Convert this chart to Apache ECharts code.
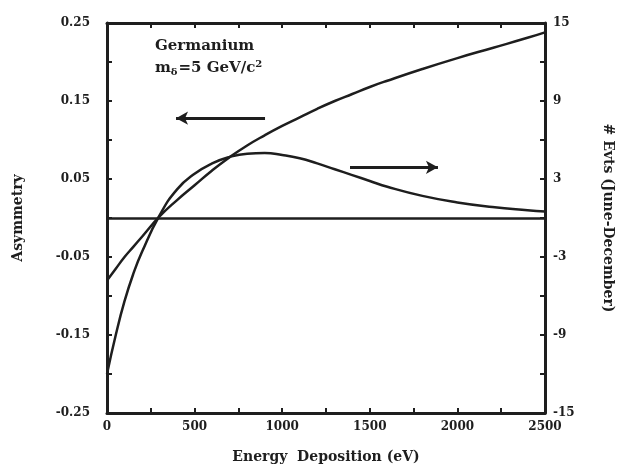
<!DOCTYPE html>
<html>
<head>
<meta charset="utf-8">
<script src="https://cdn.jsdelivr.net/npm/echarts@6/dist/echarts.min.js"></script>
<style>
  html, body { margin: 0; padding: 0; background: #fff; }
  #chart { width: 619px; height: 469px; }
</style>
</head>
<body>
<div id="chart"></div>
<script>
// Energy deposition grid (eV)
const energy = [0, 50, 100, 150, 200, 300, 400, 500, 600, 700, 800, 900, 1000,
  1100, 1200, 1300, 1400, 1500, 1600, 1800, 2000, 2200, 2400, 2500];

// Asymmetry (left axis)
const asymmetry = [-0.080, -0.065, -0.050, -0.037, -0.024, 0.002, 0.023, 0.042,
  0.061, 0.078, 0.093, 0.106, 0.118, 0.129, 0.140, 0.150, 0.159, 0.168, 0.176,
  0.191, 0.205, 0.218, 0.231, 0.238];

// Event difference June - December (right axis)
const events = [-12.0, -9.0, -6.4, -4.3, -2.6, 0.2, 2.2, 3.4, 4.2, 4.7, 4.95,
  5.0, 4.85, 4.6, 4.2, 3.75, 3.3, 2.85, 2.4, 1.7, 1.2, 0.85, 0.6, 0.5];

// Arrow annotations: [start energy, end energy, asymmetry level]
const leftArrow = [902, 394, 0.128];
const rightArrow = [1387, 1889, 0.065];

const ink = '#1e1e1e';
const tickFont = { fontFamily: 'DejaVu Serif', fontWeight: 'bold', fontSize: 12, color: ink };
const titleFont = { fontFamily: 'DejaVu Serif', fontWeight: 'bold', fontSize: 14, color: ink };

function pairs(xs, ys) { return xs.map((x, i) => [x, ys[i]]); }

const chart = echarts.init(document.getElementById('chart'), null, { renderer: 'canvas' });

const frameAxis = {
  axisLine: { show: true, onZero: false, lineStyle: { color: ink, width: 3 } },
  axisTick: { show: true, inside: true, length: 5, lineStyle: { color: ink, width: 2 } },
  splitLine: { show: false }
};

chart.setOption({
  animation: false,
  backgroundColor: '#fff',
  grid: { left: 107, right: 74, top: 23, bottom: 56, outerBoundsMode: 'none' },
  xAxis: [
    Object.assign({
      type: 'value', min: 0, max: 2500, interval: 250, position: 'bottom',
      name: 'Energy  Deposition (eV)', nameLocation: 'middle', nameGap: 37,
      nameTextStyle: titleFont,
      axisLabel: Object.assign({
        margin: 8,
        formatter: v => (v % 500 === 0 ? String(v) : '')
      }, tickFont)
    }, frameAxis),
    Object.assign({
      type: 'value', min: 0, max: 2500, interval: 250, position: 'top',
      axisLabel: { show: false }
    }, frameAxis)
  ],
  yAxis: [
    Object.assign({
      type: 'value', min: -0.25, max: 0.25, interval: 0.05, position: 'left',
      name: 'Asymmetry', nameLocation: 'middle', nameGap: 82, nameRotate: 90,
      nameTextStyle: titleFont,
      axisLabel: Object.assign({
        margin: 17, padding: [0, 0, 7, 0],
        formatter: v => (Math.abs(Math.round(v * 100)) % 10 === 5 ? v.toFixed(2) : '')
      }, tickFont)
    }, frameAxis),
    Object.assign({
      type: 'value', min: -15, max: 15, interval: 3, position: 'right',
      name: '# Evts (June-December)', nameLocation: 'middle', nameGap: 56, nameRotate: -90,
      nameTextStyle: titleFont,
      axisLabel: Object.assign({
        margin: 8, padding: [0, 0, 7, 0],
        formatter: v => (Math.abs(Math.round(v)) % 6 === 3 ? String(v) : '')
      }, tickFont)
    }, frameAxis)
  ],
  graphic: [
    {
      type: 'text', left: 155, top: 35,
      style: {
        text: 'Germanium\n{m|m}{sub|δ}{m|=5 GeV/c}{sup|2}',
        font: 'bold 15px "DejaVu Serif"', fill: ink, lineHeight: 22,
        rich: {
          m: { font: 'bold 15px "DejaVu Serif"', fill: ink },
          sub: { font: 'bold 10px "DejaVu Serif"', fill: ink, padding: [8, 1, 0, 0] },
          sup: { font: 'bold 10px "DejaVu Serif"', fill: ink, padding: [0, 0, 8, 0] }
        }
      }
    }
  ],
  series: [
    {
      name: 'Asymmetry', type: 'line', xAxisIndex: 0, yAxisIndex: 0,
      data: pairs(energy, asymmetry),
      smooth: 0.5, showSymbol: false,
      lineStyle: { color: ink, width: 2.5 },
      markLine: {
        silent: true, animation: false,
        label: { show: false },
        lineStyle: { color: ink, width: 3, type: 'solid' },
        symbol: ['none', 'arrow'], symbolSize: [10, 12],
        data: [
          [{ coord: [leftArrow[0], leftArrow[2]] }, { coord: [leftArrow[1], leftArrow[2]] }],
          [{ coord: [rightArrow[0], rightArrow[2]] }, { coord: [rightArrow[1], rightArrow[2]] }],
          [{ coord: [0, 0], symbol: 'none' }, { coord: [2500, 0], symbol: 'none', lineStyle: { width: 2.5 } }]
        ]
      }
    },
    {
      name: 'Events', type: 'line', xAxisIndex: 0, yAxisIndex: 1,
      data: pairs(energy, events),
      smooth: 0.5, showSymbol: false,
      lineStyle: { color: ink, width: 2.5 }
    }
  ]
});
</script>
</body>
</html>
